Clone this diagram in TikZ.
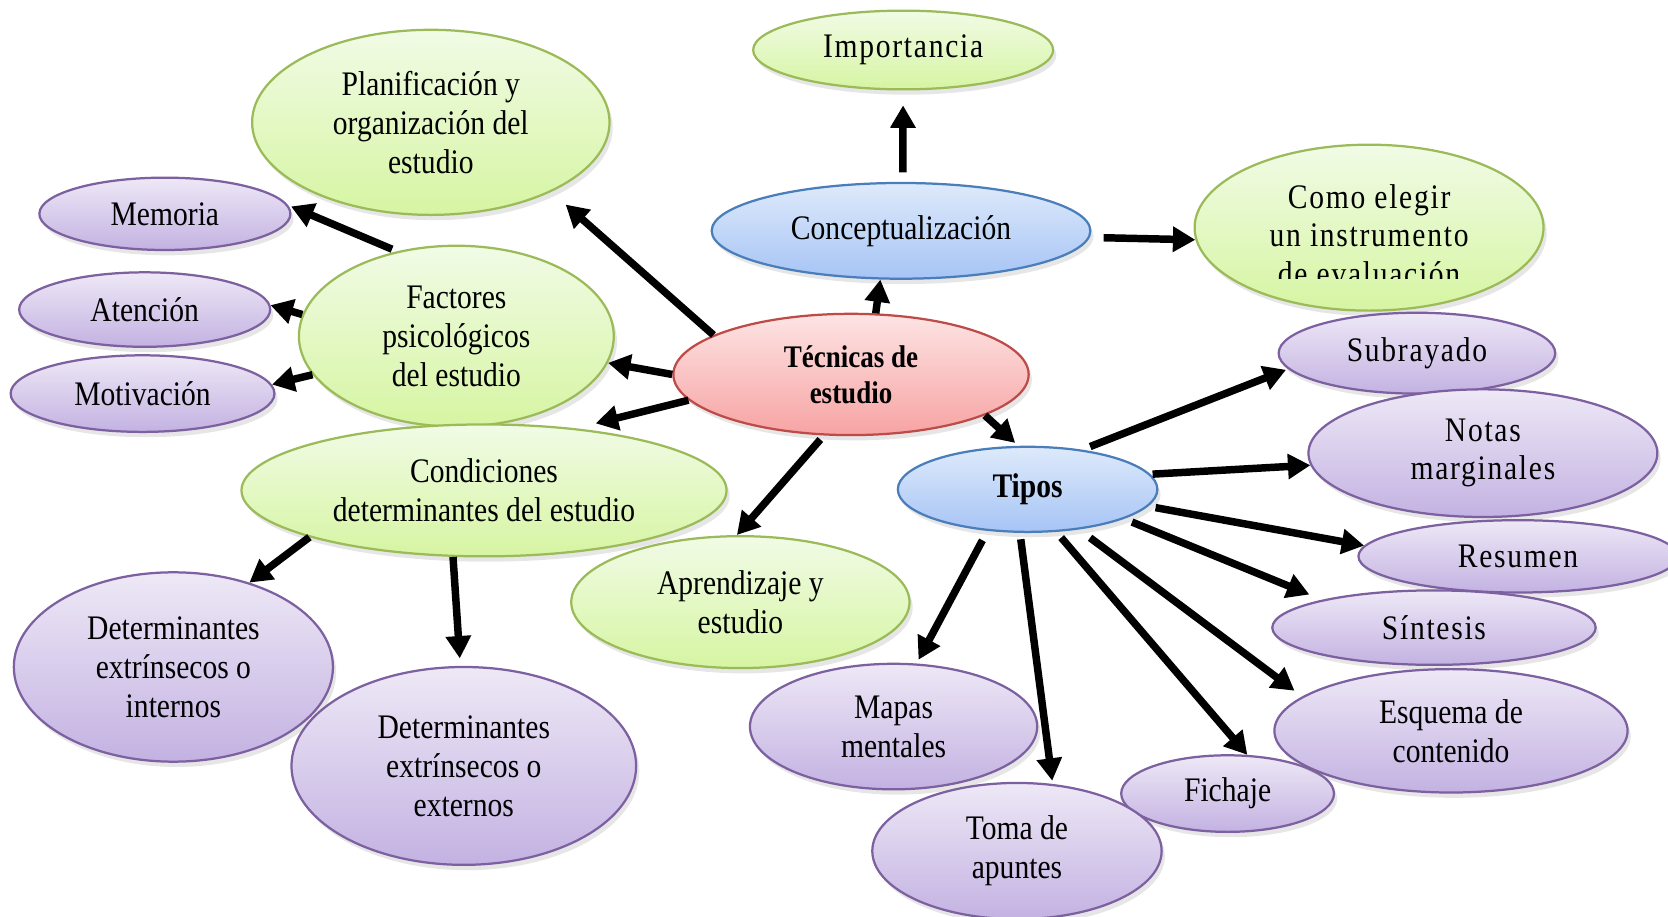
\documentclass[tikz,border=0pt]{standalone}
\usepackage{fontspec}
\setmainfont{Liberation Serif}[FakeStretch=0.86]
\newfontfamily\spaced{Liberation Serif}[FakeStretch=0.86,LetterSpace=5]
\usetikzlibrary{arrows.meta,shapes.geometric,shadows}

\definecolor{grnline}{HTML}{9BBB59}
\definecolor{grntop}{HTML}{F1FBE6}
\definecolor{grnbot}{HTML}{D6F5A2}
\definecolor{bluline}{HTML}{4A7EBB}
\definecolor{blutop}{HTML}{DEEAFB}
\definecolor{blubot}{HTML}{A6C4F5}
\definecolor{redline}{HTML}{BE4B48}
\definecolor{redtop}{HTML}{FDE4E4}
\definecolor{redbot}{HTML}{F7A3A3}
\definecolor{lilline}{HTML}{7D60A0}
\definecolor{liltop}{HTML}{EEE8F6}
\definecolor{lilbot}{HTML}{C3B2E2}

\tikzset{
  ell/.style={ellipse, inner sep=0pt, align=center, line width=0.6pt,
    font=\fontsize{9.2}{10.4}\selectfont,
    drop shadow={opacity=0.2, shadow xshift=0.3mm, shadow yshift=-0.5mm}},
  greenell/.style={ell, draw=grnline, top color=grntop, bottom color=grnbot},
  blueell/.style={ell, draw=bluline, top color=blutop, bottom color=blubot},
  redell/.style={ell, draw=redline, top color=redtop, bottom color=redbot},
  lilaell/.style={ell, draw=lilline, top color=liltop, bottom color=lilbot},
  sp/.style={font=\fontsize{9.2}{10.3}\selectfont\spaced},
  bf/.style={font=\fontsize{9.2}{9.7}\selectfont\bfseries},
  dims/.style 2 args={minimum width=#1mm, minimum height=#2mm},
  arr/.style={-{Triangle[length=6pt,width=6.5pt]}, line width=2pt},
}

\begin{document}
\begin{tikzpicture}[x=0.1mm, y=-0.1mm]
    \clip (0,0) rectangle (1568,862);

    % upper part
    \node[greenell, sp, dims={28.2}{7.4}] (imp) at (849,47) {Importancia};
    \node[greenell, dims={33.6}{17.4}] (plan) at (405,115) {Planificación y\\organización del\\estudio};
    \node[blueell, dims={35.6}{9.0}] (con) at (847,217) {Conceptualización};
    \node[greenell, dims={32.8}{15.6}] (como) at (1287,214) {};
    \begin{scope}
        \clip (1100,130) rectangle (1470,262);
        \node[sp, align=center] (comotxt) at (1287,221) {Como elegir\\un instrumento\\de evaluación};
    \end{scope}

    % left side
    \node[lilaell, dims={23.6}{6.8}] (mem) at (155,201) {Memoria};
    \node[lilaell, dims={23.6}{7.0}] (ate) at (136,291) {Atención};
    \node[lilaell, dims={24.8}{7.2}] (mot) at (134,370) {Motivación};
    \node[greenell, dims={29.6}{17.0}] (fac) at (429,316) {Factores\\psicológicos\\del estudio};
    \node[redell, bf, font=\fontsize{8.4}{9.6}\selectfont\bfseries, dims={33.4}{11.4}] (tec) at (800,352) {Técnicas de\\estudio};
    \node[greenell, dims={45.6}{12.4}] (cond) at (455,461) {Condiciones\\determinantes del estudio};
    \node[greenell, dims={31.8}{12.4}] (apr) at (696,566) {Aprendizaje y\\estudio};
    \node[lilaell, dims={30}{17.8}] (dint) at (163,627) {Determinantes\\extrínsecos o\\internos};
    \node[lilaell, dims={32.4}{18.6}] (dext) at (436,720) {Determinantes\\extrínsecos o\\externos};

    % tipos
    \node[blueell, bf, dims={24.4}{8.0}] (tip) at (966,460) {Tipos};
    \node[lilaell, sp, dims={26}{7.6}] (sub) at (1332,332) {Subrayado};
    \node[lilaell, sp, dims={32.8}{12}] (not) at (1394,426) {Notas\\marginales};
    \node[lilaell, sp, dims={30}{6.8}] (res) at (1427,523) {Resumen};
    \node[lilaell, sp, dims={30.4}{7}] (sin) at (1348,590) {Síntesis};
    \node[lilaell, dims={20}{7.2}] (fic) at (1154,746) {Fichaje};
    \node[lilaell, dims={33.2}{11.6}] (esq) at (1364,687) {Esquema de\\contenido};
    \node[lilaell, dims={27.2}{12.8}] (tom) at (956,800) {Toma de\\apuntes};
    \node[lilaell, dims={27}{11.8}] (map) at (840,683) {Mapas\\mentales};

    % arrows
    \draw[arr] (tec.68) -- (con.247);
    \draw[arr, shorten <=0.9mm, shorten >=1.4mm] (con.88) -- (imp.270);
    \draw[arr, shorten <=1.3mm] (con.-2) -- (como.184);
    \draw[arr, shorten >=1.8mm] (tec.164) -- (plan.-30);
    \draw[arr] (tec.180) -- (fac.-10);
    \draw[arr, shorten >=1.9mm] (tec.189) -- (cond.34);
    \draw[arr, shorten <=0.5mm] (tec.246) -- (apr.93);
    \draw[arr, shorten >=0.4mm] (tec.-17) -- (tip.102);
    \draw[arr, shorten <=0.5mm, shorten >=0.3mm] (fac.125) -- (mem.4);
    \draw[arr] (fac.172) -- (ate.2);
    \draw[arr] (fac.195) -- (mot.4);
    \draw[arr] (cond.195) -- (dint.48);
    \draw[arr, shorten >=0.7mm] (cond.245) -- (dext.92);

    \foreach \a/\b/\s/\e in {36/sub.187/0.8/0.2, 7/not.184/0.2/0, -8/res.176/0.7/0,
            -17/sin.166/0.8/1.3, -38/esq.167/1.3/0.9, -56/fic.63/0.7/0,
            260/tom.62/0.6/0.3, 226/map.70/1.0/0.4}
        \draw[arr, shorten <=\s mm, shorten >=\e mm] (tip.\a) -- (\b);
\end{tikzpicture}
\end{document}
